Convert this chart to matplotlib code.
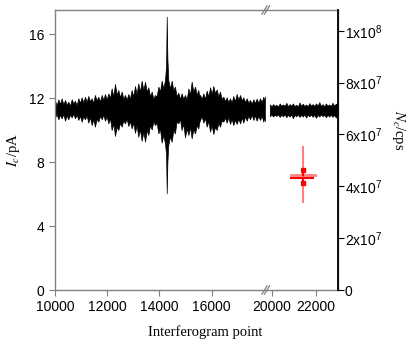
import matplotlib
matplotlib.use("Agg")
import matplotlib.pyplot as plt
from matplotlib.ticker import FixedLocator, FixedFormatter

plt.rcParams['font.family'] = ['Liberation Sans', 'DejaVu Sans']
plt.rcParams['mathtext.fontset'] = 'custom'
plt.rcParams['mathtext.rm'] = 'Liberation Sans'
plt.rcParams['mathtext.it'] = 'Liberation Sans:italic'

# ---- data ----
# left segment: envelope of the interferogram (pA)
x_left = [10000, 10065, 10130, 10192, 10255, 10320, 10385, 10448, 10510, 10575,
          10640, 10702, 10765, 10830, 10895, 10958, 11020, 11085, 11150, 11212,
          11275, 11340, 11405, 11468, 11530, 11595, 11660, 11725, 11790, 11852,
          11915, 11980, 12045, 12108, 12170, 12235, 12300, 12362, 12425, 12490,
          12555, 12618, 12680, 12745, 12810, 12872, 12935, 13000, 13065, 13128,
          13190, 13255, 13320, 13385, 13450, 13512, 13575, 13640, 13705, 13768,
          13830, 13895, 13960, 14022, 14085, 14150, 14215, 14255, 14280, 14305,
          14340, 14405, 14470, 14532, 14595, 14660, 14725, 14788, 14850, 14915,
          14980, 15045, 15110, 15172, 15235, 15300, 15365, 15428, 15490, 15523,
          15556, 15620, 15685, 15748, 15810, 15875, 15940, 16002, 16065, 16130,
          16195, 16258, 16320, 16385, 16450, 16512, 16575, 16640, 16705, 16768,
          16830, 16895, 16960, 17025, 17090, 17152, 17215, 17280, 17345, 17408,
          17470, 17535, 17600, 17662, 17725, 17790, 17855, 17918, 17980, 18010,
          18040]
upper_left = [11.83, 11.55, 11.92, 11.62, 11.98, 11.60, 11.88, 11.58, 11.77, 11.52,
              11.92, 11.66, 11.83, 11.55, 11.98, 11.70, 12.04, 11.72, 12.08, 11.75,
              12.13, 11.80, 11.98, 11.70, 12.19, 11.85, 12.08, 11.78, 12.19, 11.88,
              12.25, 11.90, 12.29, 12.00, 12.60, 12.10, 12.88, 12.20, 12.50, 12.05,
              12.40, 11.95, 12.19, 11.90, 12.25, 11.95, 12.50, 12.10, 12.75, 12.25,
              12.92, 12.40, 13.08, 12.50, 13.02, 12.40, 12.67, 12.10, 12.40, 11.95,
              12.19, 12.10, 12.71, 12.40, 13.08, 12.60, 13.13, 14.00, 17.08, 14.50,
              13.13, 12.60, 13.08, 12.50, 12.71, 12.10, 12.33, 11.95, 12.29, 11.95,
              12.19, 11.90, 12.60, 12.20, 13.02, 12.40, 12.71, 12.20, 12.50, 12.15,
              12.19, 11.95, 12.29, 11.95, 12.46, 12.10, 12.67, 12.25, 12.75, 12.30,
              12.54, 12.10, 12.40, 11.95, 12.08, 11.80, 12.04, 11.75, 11.98, 11.72,
              12.13, 11.80, 12.25, 11.90, 12.19, 11.85, 12.04, 11.75, 11.98, 11.70,
              11.88, 11.65, 11.92, 11.68, 11.96, 11.70, 11.98, 11.72, 12.08, 11.80,
              12.10]
lower_left = [10.79, 10.98, 10.67, 10.95, 10.73, 11.00, 10.58, 10.92, 10.67, 10.96,
              10.79, 11.02, 10.73, 10.95, 10.63, 10.90, 10.52, 10.85, 10.67, 10.92,
              10.46, 10.80, 10.31, 10.68, 10.21, 10.70, 10.52, 10.88, 10.67, 10.95,
              10.58, 10.85, 10.42, 10.75, 10.00, 10.40, 9.63, 10.20, 10.00, 10.45,
              10.21, 10.60, 10.42, 10.70, 10.25, 10.55, 10.10, 10.45, 9.83, 10.30,
              9.58, 10.05, 9.33, 9.90, 9.27, 10.00, 9.69, 10.30, 10.04, 10.55,
              10.31, 10.45, 9.79, 10.10, 9.21, 9.70, 9.13, 8.50, 6.04, 8.00,
              9.06, 9.60, 9.27, 10.00, 9.79, 10.55, 10.42, 10.70, 10.00, 10.40,
              9.54, 10.10, 9.69, 10.20, 9.48, 10.05, 9.79, 10.30, 10.10, 10.45,
              10.63, 10.85, 10.46, 10.75, 10.21, 10.55, 9.90, 10.30, 9.75, 10.20,
              10.00, 10.45, 10.21, 10.60, 10.52, 10.78, 10.46, 10.80, 10.38, 10.70,
              10.31, 10.65, 10.38, 10.70, 10.42, 10.78, 10.46, 10.85, 10.58, 10.90,
              10.67, 10.95, 10.63, 10.92, 10.58, 10.88, 10.63, 10.90, 10.52, 10.80,
              10.55]

# right segment: envelope (pA)
x_right = [19900, 19975, 20050, 20125, 20200, 20275, 20350, 20425, 20500, 20575,
           20650, 20725, 20800, 20875, 20950, 21025, 21100, 21175, 21250, 21325,
           21400, 21475, 21550, 21625, 21700, 21775, 21850, 21925, 22000, 22075,
           22150, 22225, 22300, 22375, 22450, 22525, 22600, 22675, 22750, 22825,
           22900, 23000]
upper_right = [11.60, 11.48, 11.62, 11.50, 11.58, 11.46, 11.66, 11.52, 11.60, 11.50,
               11.70, 11.48, 11.62, 11.52, 11.66, 11.50, 11.58, 11.47, 11.72, 11.52,
               11.64, 11.50, 11.60, 11.48, 11.68, 11.52, 11.62, 11.50, 11.66, 11.52,
               11.74, 11.50, 11.62, 11.48, 11.66, 11.52, 11.60, 11.50, 11.70, 11.52,
               11.64, 11.66]
lower_right = [10.86, 10.98, 10.84, 10.96, 10.88, 10.98, 10.82, 10.95, 10.86, 10.98,
               10.80, 10.96, 10.84, 10.97, 10.74, 10.95, 10.86, 10.98, 10.82, 10.95,
               10.84, 10.98, 10.78, 10.95, 10.86, 10.97, 10.82, 10.96, 10.76, 10.95,
               10.84, 10.98, 10.86, 10.96, 10.80, 10.95, 10.84, 10.97, 10.82, 10.95,
               10.78, 10.84]

# averaged results (red marks)
avg_x = 21400
avg_half_width = 545
light_mean, light_err = 7.21, 1.74
dark_mean = 6.98
dark_up, dark_down = 7.50, 6.67

left_ticks = [0, 4, 8, 12, 16]
right_ticks = [0, 2e7, 4e7, 6e7, 8e7, 1e8]
right_labels = ['0', '2x10$^{7}$', '4x10$^{7}$', '6x10$^{7}$', '8x10$^{7}$', '1x10$^{8}$']
xticks_left = [10000, 12000, 14000, 16000]
xticks_right = [20000, 22000]

# ---- figure ----
fig = plt.figure(figsize=(4.15, 3.42), dpi=100)
L, B, W1, W2, H = 0.1325, 0.152, 0.5108, 0.1711, 0.8187
ax1 = fig.add_axes([L, B, W1, H])
ax2 = fig.add_axes([L + W1, B, W2, H], sharey=ax1)

grey = '#808080'
ax1.fill_between(x_left, lower_left, upper_left, color='black', edgecolor='black', lw=0.5)
ax2.fill_between(x_right, lower_right, upper_right, color='black', edgecolor='black', lw=0.5)

lightred = '#ff8080'
ax2.plot([avg_x, avg_x], [light_mean - light_err, light_mean + light_err], color=lightred, lw=1.5)
ax2.plot([avg_x - avg_half_width, avg_x + avg_half_width], [light_mean, light_mean], color=lightred, lw=2)
ax2.plot([avg_x - avg_half_width, avg_x + avg_half_width * 0.85], [dark_mean, dark_mean], color='red', lw=1.5)
ax2.plot([avg_x, avg_x], [light_mean, dark_up], color='red', lw=1.5)
ax2.plot([avg_x, avg_x], [dark_mean, dark_down], color='red', lw=1.5)
ax2.plot([avg_x, avg_x], [dark_up, dark_down], 's', color='red', ms=2.5)

ax1.set_xlim(10000, 18120)
ax2.set_xlim(19770, 23000)
ax1.set_ylim(0, 17.5)

ax1.set_xticks(xticks_left)
ax2.set_xticks(xticks_right)
ax1.set_yticks(left_ticks)
ax1.set_yticklabels([str(t) for t in left_ticks])

for ax in (ax1, ax2):
    ax.tick_params(direction='out', length=4, color=grey, labelsize=10, width=0.8)
    for s in ax.spines.values():
        s.set_color(grey)
        s.set_linewidth(1.0)
ax1.spines['right'].set_visible(False)
ax2.spines['left'].set_visible(False)

ax3 = ax2.twinx()
ax2.tick_params(axis='y', left=False, right=False, labelleft=False, labelright=False)
ax3.set_ylim(0, 1.08e8)
ax3.yaxis.set_major_locator(FixedLocator(right_ticks))
ax3.yaxis.set_major_formatter(FixedFormatter(right_labels))
ax3.tick_params(direction='out', length=4, color='black', labelsize=10, width=0.8, pad=1)
for k, s in ax3.spines.items():
    s.set_visible(k == 'right')
ax3.spines['right'].set_color('black')
ax3.spines['right'].set_linewidth(1.3)

# break marks
d = 0.012
for yb in (0, 1):
    for off in (-0.006, 0.0):
        fig.lines.append(plt.Line2D([L + W1 + off - d * 0.5, L + W1 + off + d * 0.5],
                                    [B + yb * H - 0.012, B + yb * H + 0.012],
                                    color=grey, lw=0.9, transform=fig.transFigure))

fig.text(205 / 415, 1 - 332 / 342, 'Interferogram point', family='Liberation Serif',
         fontsize=10.5, ha='center', va='center')
fig.text(13 / 415, B + H / 2, '$\\mathit{I}_c$/pA', fontsize=10.5,
         rotation=90, ha='center', va='center', family='Liberation Serif',
         math_fontfamily='stix')
fig.text(398 / 415, 1 - 130 / 342, '$\\mathit{N}_c$/cps', fontsize=10.5,
         rotation=270, ha='center', va='center', family='Liberation Serif',
         math_fontfamily='stix')

fig.savefig('out.png', dpi=100)
